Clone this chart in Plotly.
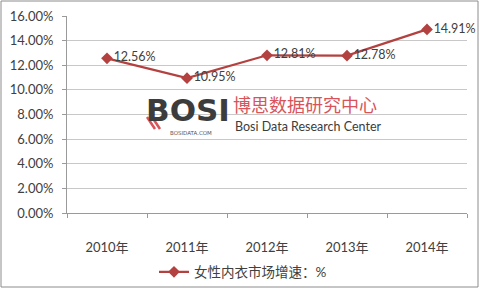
import plotly.graph_objects as go

# Series data
years = ["2010年", "2011年", "2012年", "2013年", "2014年"]
growth = [0.1256, 0.1095, 0.1281, 0.1278, 0.1491]
series_name = "女性内衣市场增速：%"
y_ticks = [0, 0.02, 0.04, 0.06, 0.08, 0.10, 0.12, 0.14, 0.16]

LINE = "#B3413F"
GRID = "#C8C8C8"
AXIS = "#9A9A9A"
TEXT = "#404040"
FONT = "Lato, 'Noto Sans CJK SC', sans-serif"

W, H = 483, 291
L, R, T, B = 67, 16, 16, 78
PW, PH = W - L - R, H - T - B


def px_x(x):
    return (x - L) / PW


def px_y(y):
    return (H - B - y) / PH


fig = go.Figure()
fig.add_trace(go.Scatter(
    x=years, y=growth, name=series_name,
    mode="lines+markers+text",
    line=dict(color=LINE, width=2.2),
    marker=dict(symbol="diamond", size=9, color=LINE),
    text=[f"{v * 100:.2f}%" for v in growth],
    textposition="middle right",
    textfont=dict(size=12.5, color=TEXT, family=FONT),
    cliponaxis=False,
))

# Watermark: logo and centre name
fig.add_annotation(x=px_x(188), y=px_y(110), xref="paper", yref="paper",
                   text="<b>BOSI</b>", showarrow=False,
                   font=dict(size=31, color="#3C3C3C", family="DejaVu Sans"),
                   xanchor="center", yanchor="middle")
fig.add_annotation(x=px_x(191), y=px_y(133), xref="paper", yref="paper",
                   text="BOSIDATA.COM", showarrow=False,
                   font=dict(size=5.5, color="#555555", family="DejaVu Sans"),
                   xanchor="center", yanchor="middle")
fig.add_annotation(x=px_x(231), y=px_y(104), xref="paper", yref="paper",
                   text="博思数据研究中心", showarrow=False,
                   font=dict(size=18, color="#D9545A", family="'Noto Sans CJK SC'"),
                   xanchor="left", yanchor="middle")
fig.add_annotation(x=px_x(233), y=px_y(126), xref="paper", yref="paper",
                   text="Bosi Data Research Center", showarrow=False,
                   font=dict(size=12.5, color="#3C3C3C", family=FONT),
                   xanchor="left", yanchor="middle")
for dx in (0, 5):
    fig.add_shape(type="line", xref="paper", yref="paper",
                  x0=px_x(147 + dx), y0=px_y(117), x1=px_x(155 + dx), y1=px_y(129),
                  line=dict(color="#D9545A", width=2.5))

# Outer chart border
fig.add_shape(type="rect", xref="paper", yref="paper",
              x0=px_x(1), y0=px_y(1), x1=px_x(478), y1=px_y(287),
              line=dict(color="#8C8C8C", width=1))

fig.update_layout(
    width=W, height=H,
    margin=dict(l=L, r=R, t=T, b=B, autoexpand=False),
    paper_bgcolor="white", plot_bgcolor="white",
    font=dict(family=FONT, size=13, color=TEXT),
    showlegend=True,
    legend=dict(orientation="h", x=0.44, y=px_y(272), xanchor="center", yanchor="middle",
                font=dict(size=13.5, color=TEXT, family=FONT), bgcolor="rgba(0,0,0,0)"),
)
fig.update_xaxes(
    type="category", range=[-0.5, 4.5],
    showline=True, linecolor=AXIS, linewidth=1,
    ticks="outside", tickson="boundaries", ticklen=4, tickcolor=AXIS,
    ticklabelstandoff=22, automargin=False,
    showgrid=False, tickfont=dict(size=13, color=TEXT),
)
fig.update_yaxes(
    range=[0, 0.16], tickvals=y_ticks,
    ticktext=[f"{v * 100:.2f}%" for v in y_ticks],
    showline=True, linecolor=AXIS, linewidth=1,
    ticks="outside", ticklen=4, tickcolor=AXIS,
    ticklabelstandoff=6, automargin=False,
    showgrid=True, gridcolor=GRID, gridwidth=1,
    zeroline=False, tickfont=dict(size=13, color=TEXT),
)

fig.write_html("out.html")
